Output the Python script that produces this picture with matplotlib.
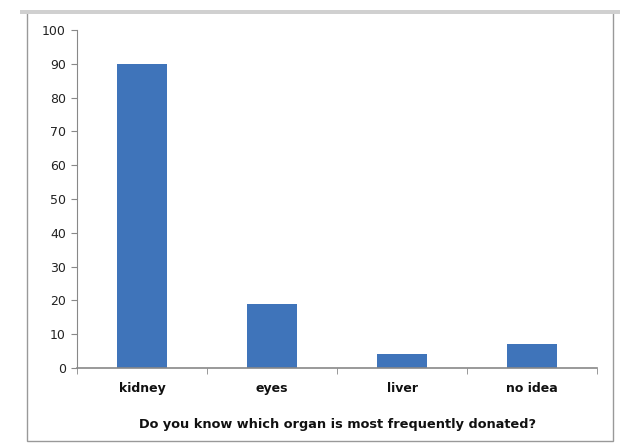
import matplotlib.pyplot as plt
import matplotlib.patches as patches

# data
categories = ['kidney', 'eyes', 'liver', 'no idea']
values = [90, 19, 4, 7]
y_ticks = [0, 10, 20, 30, 40, 50, 60, 70, 80, 90, 100]

fig = plt.figure(figsize=(6.23, 4.44), dpi=100)
ax = fig.add_axes([0.1236, 0.1712, 0.8347, 0.7613])

x = list(range(len(categories)))
ax.bar(x, values, width=0.385, color='#3F74BA')

ax.set_xlim(-0.5, len(categories) - 0.5)
ax.set_ylim(0, 100)
ax.set_yticks(y_ticks)
ax.set_yticklabels([str(t) for t in y_ticks], fontsize=9, color='#222222')

ax.set_xticks(x)
ax.set_xticklabels(categories, fontsize=9, fontweight='bold', color='#111111')
ax.tick_params(axis='x', which='major', length=0, pad=10)
ax.set_xticks([i - 0.5 for i in range(len(categories) + 1)], minor=True)
ax.tick_params(axis='x', which='minor', length=4, color='#888888')
ax.tick_params(axis='y', length=4, color='#888888', pad=4)

for s in ['top', 'right']:
    ax.spines[s].set_visible(False)
ax.spines['left'].set_color('#888888')
ax.spines['bottom'].set_color('#888888')
ax.spines['bottom'].set_linewidth(1.2)

ax.set_xlabel('Do you know which organ is most frequently donated?',
              fontsize=9.3, fontweight='bold', color='#111111', labelpad=17)

# chart border
border = patches.Rectangle((27 / 623, 3 / 444), 586 / 623, 429 / 444,
                           transform=fig.transFigure, fill=False,
                           edgecolor='#999999', linewidth=1)
fig.patches.append(border)
top = patches.Rectangle((20 / 623, 430 / 444), 600 / 623, 4 / 444,
                        transform=fig.transFigure, color='#d0d0d0', linewidth=0)
fig.patches.append(top)

fig.savefig('out.png', dpi=100)
